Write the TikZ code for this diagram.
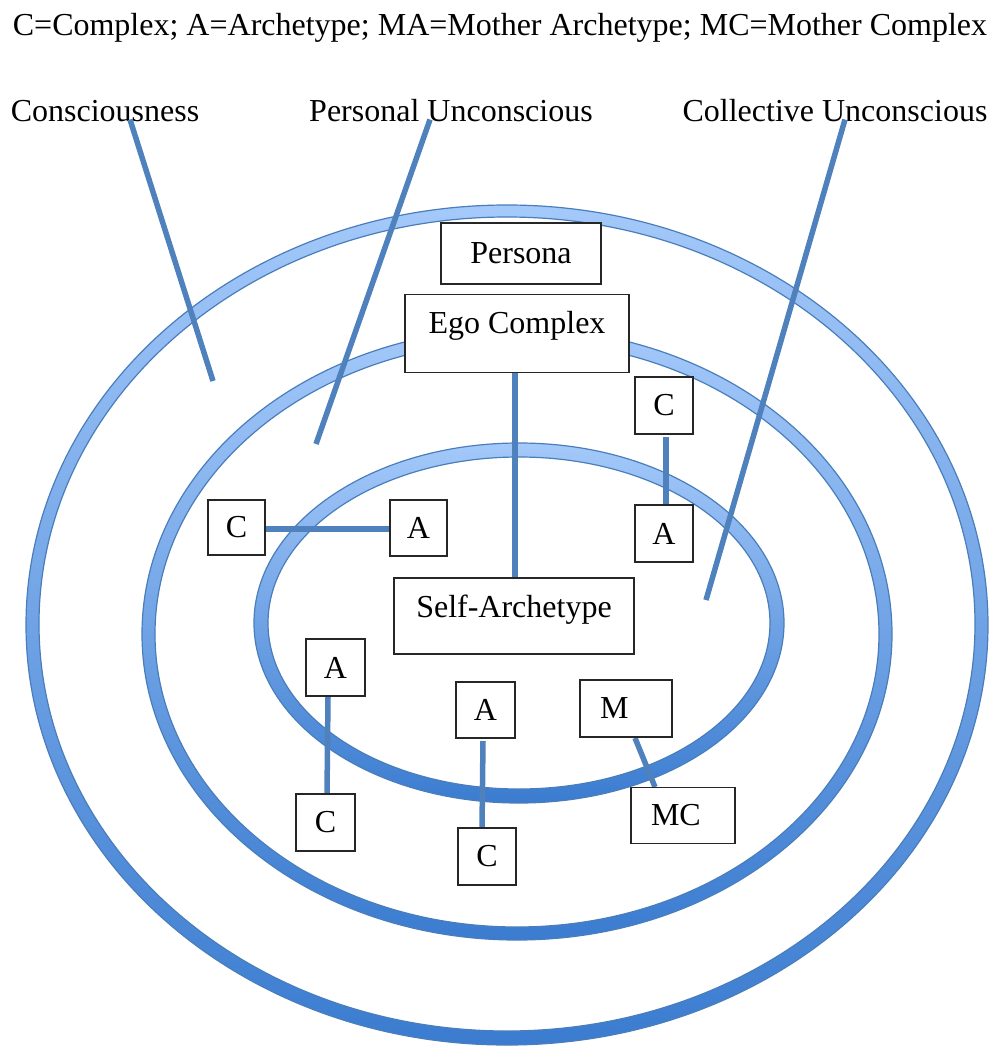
\documentclass[tikz,border=0pt]{standalone}
\usepackage{fontspec}
\setmainfont{Liberation Serif}
\usetikzlibrary{positioning}
\definecolor{ringtop}{HTML}{A4C9FA}
\definecolor{ringmid}{HTML}{86B3EF}
\definecolor{ringbot}{HTML}{3B7CD0}
\definecolor{ringedge}{HTML}{4A7EBB}
\definecolor{linkblue}{HTML}{4F81BD}

\begin{document}
\begin{tikzpicture}[x=1pt,y=-1pt,
	ring/.style={even odd rule, top color=ringtop, middle color=ringmid, bottom color=ringbot, draw=ringedge, line width=1.2pt},
	tag/.style={draw=black!85, line width=1.2pt, fill=white, inner sep=0pt, font=\fontsize{32}{36}\selectfont},
	toptag/.style={tag, inner ysep=7.5pt, text height=32pt},
	lefttag/.style={tag, inner xsep=20pt, align=left},
	pointer/.style={draw=linkblue, line width=5.5pt},
	heading/.style={inner sep=0pt, anchor=base, font=\fontsize{32}{36}\selectfont}]
		\useasboundingbox (0,0) rectangle (991,1047);

		% rings
		\path[ring] (507,625) ellipse (481 and 420) (507,624) ellipse (468 and 407);
		\path[ring] (517,634) ellipse (375 and 306) (517,634) ellipse (362 and 293);
		\path[ring] (519,623) ellipse (265 and 180) (519,623) ellipse (251 and 166);

		% headings
		\node[heading] (key) at (500,35) {C=Complex; A=Archetype; MA=Mother Archetype; MC=Mother Complex};
		\node[heading] (con) at (105,121) {Consciousness};
		\node[heading] (pers) at (451,121) {Personal Unconscious};
		\node[heading] (coll) at (835,121) {Collective Unconscious};
		\coordinate (conTip) at (213,381);
		\coordinate (persTip) at (316,444);
		\coordinate (collTip) at (706,600);
		\draw[pointer] ([xshift=25pt,yshift=2pt]con.south) -- (conTip);
		\draw[pointer] ([xshift=-21pt,yshift=2pt]pers.south) -- (persTip);
		\draw[pointer] ([xshift=10pt,yshift=2pt]coll.south) -- (collTip);

		% links
		\coordinate (egoFoot) at (515,371);
		\coordinate (selfHead) at (515,578);
		\draw[pointer] (egoFoot) -- (selfHead);
		\coordinate (clEnd) at (263,529);
		\coordinate (alEnd) at (391,529);
		\draw[pointer] (clEnd) -- (alEnd);
		\coordinate (crEnd) at (666,437);
		\coordinate (arEnd) at (666,508);
		\draw[pointer] (crEnd) -- (arEnd);
		\coordinate (ablEnd) at (328,697);
		\coordinate (cblEnd) at (327,794);
		\draw[pointer] (ablEnd) -- (cblEnd);
		\coordinate (abmEnd) at (483,741);
		\coordinate (cbmEnd) at (482,828);
		\draw[pointer] (abmEnd) -- (cbmEnd);
		\coordinate (mbEnd) at (635,738);
		\coordinate (mcEnd) at (655,787);
		\draw[pointer] (mbEnd) -- (mcEnd);

		% boxes
		\node[tag, minimum width=160pt, minimum height=61pt] (persona) at (521,253.5) {Persona};
		\node[toptag, minimum width=224pt, text depth=31.5pt] (ego) at (517,333.5) {Ego Complex};
		\node[toptag, minimum width=240pt, text depth=29pt] (self) at (514,616) {Self-Archetype};
		\node[tag, minimum width=57pt, minimum height=55pt] (cl) at (236.5,527.5) {C};
		\node[tag, minimum width=57pt, minimum height=56pt] (al) at (418.5,528) {A};
		\node[tag, minimum width=58pt, minimum height=57pt] (cr) at (664,405.5) {C};
		\node[tag, minimum width=58pt, minimum height=57pt] (ar) at (664,533.5) {A};
		\node[tag, minimum width=59pt, minimum height=57pt] (abl) at (335.5,667.5) {A};
		\node[tag, minimum width=59pt, minimum height=57pt] (cbl) at (325.5,822.5) {C};
		\node[tag, minimum width=59pt, minimum height=56pt] (abm) at (485.5,710) {A};
		\node[tag, minimum width=58pt, minimum height=57pt] (cbm) at (487,856.5) {C};
		\node[lefttag, minimum width=92pt, minimum height=57pt, text width=52pt] (mb) at (626,708.5) {M};
		\node[lefttag, minimum width=104pt, minimum height=56pt, text width=64pt] (mc) at (683,815.5) {MC};
	\end{tikzpicture}
\end{document}
